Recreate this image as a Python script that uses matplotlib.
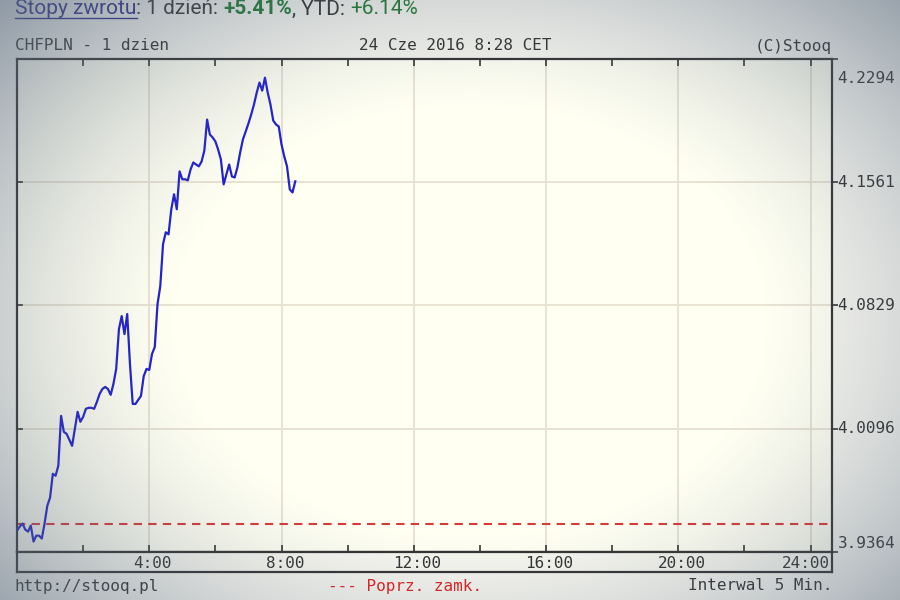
import numpy as np
import matplotlib
matplotlib.use("Agg")
import matplotlib.pyplot as plt

# CHFPLN, 24 Jun 2016, 5-min quotes from 0:00 to 8:25
prices = [
    3.9491, 3.9515, 3.9533, 3.9497, 3.9485, 3.9521, 3.9426, 3.9461, 3.9461, 3.9444,
    3.9533, 3.9639, 3.9687, 3.9829, 3.9817, 3.9877, 4.0173, 4.0078, 4.0066, 4.0031,
    3.9995, 4.0096, 4.0197, 4.0138, 4.0167, 4.0215, 4.0221, 4.0221, 4.0215, 4.0256,
    4.0304, 4.0333, 4.0345, 4.0333, 4.0298, 4.0363, 4.0452, 4.0689, 4.0766, 4.0659,
    4.0778, 4.0481, 4.0244, 4.0244, 4.0268, 4.0292, 4.0410, 4.0452, 4.0446, 4.0541,
    4.0582, 4.0837, 4.0944, 4.1193, 4.1264, 4.1252, 4.1401, 4.1490, 4.1401, 4.1626,
    4.1579, 4.1579, 4.1573, 4.1638, 4.1679, 4.1667, 4.1656, 4.1685, 4.1750, 4.1934,
    4.1845, 4.1828, 4.1804, 4.1756, 4.1697, 4.1549, 4.1608, 4.1667, 4.1596, 4.1590,
    4.1650, 4.1739, 4.1816, 4.1863, 4.1911, 4.1964, 4.2023, 4.2094, 4.2154, 4.2106,
    4.2183, 4.2094, 4.2023, 4.1928, 4.1905, 4.1893, 4.1786, 4.1715, 4.1656, 4.1519,
    4.1501, 4.1567,
]
prev_close = 3.9530
y_ticks = [3.9364, 4.0096, 4.0829, 4.1561, 4.2294]
x_ticks = [4, 8, 12, 16, 20, 24]
x_labels = ["4:00", "8:00", "12:00", "16:00", "20:00", "24:00"]

hours = np.arange(len(prices)) * 5 / 60.0

mono = "DejaVu Sans Mono"
fs = 11.5
ink = "#333333"
W, H = 900, 600
fig = plt.figure(figsize=(9, 6), dpi=100, facecolor="#f4f4ee")

L, R, T, B = 17, 832, 59, 552
ax = fig.add_axes([L / W, 1 - B / H, (R - L) / W, (B - T) / H])
ax.set_facecolor("#fffff2")
ax.set_xlim(0, 24.65)
ax.set_ylim(y_ticks[0], y_ticks[-1])

for h in x_ticks:
    ax.axvline(h, color="#e6e0d0", lw=1.3, zorder=1)
for v in y_ticks[1:-1]:
    ax.axhline(v, color="#e6e0d0", lw=1.3, zorder=1)

ax.axhline(prev_close, color="#d83a3a", lw=1.5, ls=(0, (4, 3)), zorder=2)
ax.plot(hours, prices, color="#2222cc", lw=1.6, zorder=3)

ax.set_xticks(np.arange(2, 25, 2))
ax.set_xticklabels([])
ax.tick_params(axis="x", direction="in", length=5, width=1.2, top=True,
               bottom=True, color=ink)
ax.set_yticks(y_ticks)
ax.yaxis.tick_right()
ax.tick_params(axis="y", direction="out", length=4, width=1.2, left=False,
               right=True, labelright=False, color=ink)
offsets = [6, 0, 0, 0, -14]
for v, dy in zip(y_ticks, offsets):
    ax.annotate(f"{v:.4f}", xy=(1, v), xycoords=ax.get_yaxis_transform(),
                xytext=(4, dy), textcoords="offset points", ha="left",
                va="center", family=mono, fontsize=fs, color=ink)
for v in y_ticks[1:-1]:
    ax.plot([0, 0.006], [v, v], transform=ax.get_yaxis_transform(),
            color=ink, lw=1.2, clip_on=False, zorder=4)
for s in ax.spines.values():
    s.set_color(ink)
    s.set_linewidth(1.6)

# time label band under the plot
band = fig.add_axes([L / W, 1 - 572 / H, (R - L) / W, 20 / H])
band.set_facecolor("#f6f6ee")
band.set_xlim(ax.get_xlim())
band.set_ylim(0, 1)
band.set_xticks([])
band.set_yticks([])
for h, lab in zip(x_ticks, x_labels):
    band.text(h + 0.1 if h < 24 else h - 0.15, 0.45, lab, ha="center",
              va="center", family=mono, fontsize=fs, color=ink)
for s in band.spines.values():
    s.set_color(ink)
    s.set_linewidth(1.6)

# header and footer texts
fig.text(15 / W, 1 - 46 / H, "CHFPLN - 1 dzien", family=mono, fontsize=fs,
         color=ink, va="center")
fig.text(455 / W, 1 - 46 / H, "24 Cze 2016 8:28 CET", family=mono, fontsize=fs,
         color=ink, va="center", ha="center")
fig.text(R / W, 1 - 46 / H, "(C)Stooq", family=mono, fontsize=fs,
         color=ink, va="center", ha="right")
fig.text(15 / W, 1 - 586 / H, "http://stooq.pl", family=mono, fontsize=fs,
         color=ink, va="center")
fig.text(405 / W, 1 - 586 / H, "--- Poprz. zamk.", family=mono, fontsize=fs,
         color="#dd2222", va="center", ha="center")
fig.text(R / W, 1 - 586 / H, "Interwal 5 Min.", family=mono, fontsize=fs,
         color=ink, va="center", ha="right")

y0 = 1 - 9 / H
hfs = 15
t1 = fig.text(15 / W, y0, "Stopy zwrotu", family="Roboto", fontsize=hfs,
              color="#2a2a8a", va="center")
fig.canvas.draw()
r = fig.canvas.get_renderer()
bb = t1.get_window_extent(r)
fig.add_artist(plt.Line2D([bb.x0 / W, bb.x1 / W], [(bb.y0 + 1) / H] * 2,
                          color="#2a2a8a", lw=1))
parts = [(": 1 dzień: ", ink, "normal"), ("+5.41%", "#1e7a2e", "bold"),
         (", YTD: ", ink, "normal"), ("+6.14%", "#1e7a2e", "normal")]
x = bb.x1
for txt, col, wt in parts:
    t = fig.text(x / W, y0, txt, family="Roboto", fontsize=hfs, color=col,
                 weight=wt, va="center")
    x = t.get_window_extent(r).x1

# photo-like vignette over the whole picture
ov = fig.add_axes([0, 0, 1, 1], zorder=10)
ov.axis("off")
yy, xx = np.mgrid[0:H, 0:W]
d = np.sqrt(((xx - 470) / 520.0) ** 2 + ((yy - 320) / 380.0) ** 2)
alpha = np.clip((d - 0.55) / 0.75, 0, 1) ** 1.4 * 0.75
rgba = np.zeros((H, W, 4))
rgba[..., 0] = 0.36
rgba[..., 1] = 0.42
rgba[..., 2] = 0.50
rgba[..., 3] = alpha
ov.imshow(rgba, extent=[0, 1, 0, 1], aspect="auto", interpolation="bilinear")
ov.set_xlim(0, 1)
ov.set_ylim(0, 1)

fig.savefig("out.png", dpi=100)
